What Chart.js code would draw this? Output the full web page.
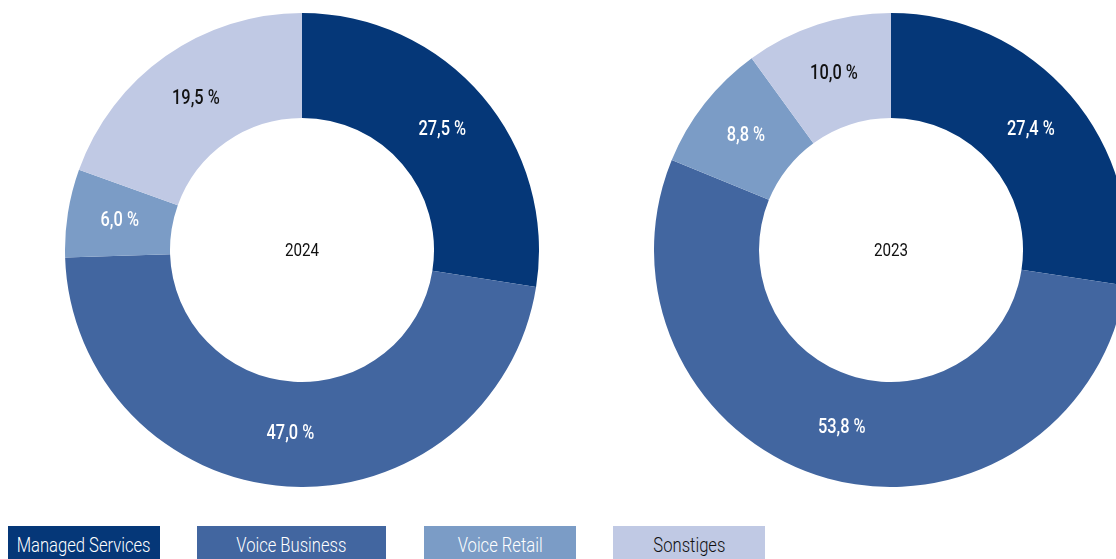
<!DOCTYPE html>
<html lang="de">
<head>
<meta charset="utf-8">
<title>Umsatzverteilung</title>
<script src="https://cdn.jsdelivr.net/npm/chart.js@4.4.1/dist/chart.umd.min.js"></script>
<style>
  html, body { margin: 0; padding: 0; background: #fff; overflow: hidden; }
  body { width: 1116px; height: 559px; position: relative; font-family: Roboto, sans-serif; }
  .donut { position: absolute; top: 13px; width: 474px; height: 474px; }
  #wrap2024 { left: 65px; }
  #wrap2023 { left: 654px; }
  .legend-item { position: absolute; top: 526px; height: 34px; display: flex; justify-content: center; align-items: center; padding-top: 3px; box-sizing: border-box; font-size: 20px; font-weight: 300; white-space: nowrap; }
  .legend-item span { display: inline-block; transform: scaleX(0.83); }
</style>
</head>
<body>
<div class="donut" id="wrap2024"><canvas id="chart2024"></canvas></div>
<div class="donut" id="wrap2023"><canvas id="chart2023"></canvas></div>
<div id="legend"></div>

<script>
  // Anteile je Segment in Prozent
  const categories = ['Managed Services', 'Voice Business', 'Voice Retail', 'Sonstiges'];
  const values2024 = [27.5, 47.0, 6.0, 19.5];
  const values2023 = [27.4, 53.8, 8.8, 10.0];
  const segmentColors = ['#053778', '#4266a0', '#7b9cc6', '#c0c9e4'];
  const textColors = ['#ffffff', '#ffffff', '#ffffff', '#111111'];

  // schmal gezogener Text (Schrift ohne Condensed-Schnitt)
  const narrowText = (ctx, text, x, y, sx) => {
    ctx.save();
    ctx.translate(x, y);
    ctx.scale(sx, 1);
    ctx.fillText(text, 0, 0);
    ctx.restore();
  };

  // Prozentwerte in den Ringen + Jahr in der Mitte
  const labelPlugin = {
    id: 'ringLabels',
    afterDatasetsDraw(chart, args, opts) {
      const ctx = chart.ctx;
      const meta = chart.getDatasetMeta(0);
      const data = chart.data.datasets[0].data;
      ctx.save();
      ctx.textAlign = 'center';
      ctx.textBaseline = 'middle';
      ctx.font = '500 19.5px Roboto, sans-serif';
      meta.data.forEach((arc, i) => {
        const p = arc.getCenterPoint();
        ctx.fillStyle = textColors[i];
        narrowText(ctx, data[i].toFixed(1).replace('.', ',') + ' %', p.x, p.y, 0.84);
      });
      const c = meta.data[0];
      ctx.fillStyle = '#111';
      ctx.font = '400 19px Roboto, sans-serif';
      narrowText(ctx, opts.title, c.x, c.y + 1, 0.8);
      ctx.restore();
    }
  };

  const initDonut = (id, values, year) => new Chart(document.getElementById(id), {
    type: 'doughnut',
    data: { labels: categories, datasets: [{ data: values, backgroundColor: segmentColors, borderWidth: 0 }] },
    options: {
      responsive: true,
      maintainAspectRatio: false,
      animation: false,
      cutout: '55.7%',
      layout: { padding: 0 },
      plugins: { legend: { display: false }, tooltip: { enabled: false }, ringLabels: { title: year } }
    },
    plugins: [labelPlugin]
  });

  initDonut('chart2024', values2024, '2024');
  initDonut('chart2023', values2023, '2023');

  // Legende als farbige Kästen
  const legendPos = [[8, 152], [197, 189], [424, 152], [613, 152]];
  const legend = document.getElementById('legend');
  categories.forEach((name, i) => {
    const el = document.createElement('div');
    el.className = 'legend-item';
    el.style.left = legendPos[i][0] + 'px';
    el.style.width = legendPos[i][1] + 'px';
    el.style.background = segmentColors[i];
    el.style.color = textColors[i];
    const span = document.createElement('span');
    span.textContent = name;
    el.appendChild(span);
    legend.appendChild(el);
  });
</script>
</body>
</html>
